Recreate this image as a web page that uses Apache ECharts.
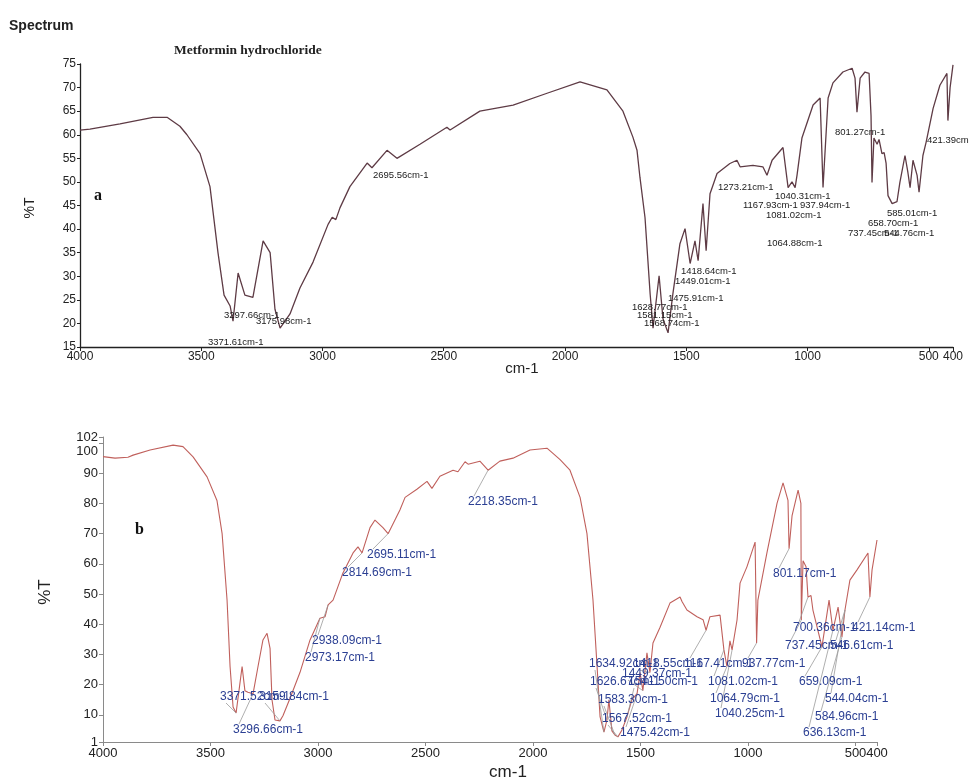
<!DOCTYPE html>
<html>
<head>
<meta charset="utf-8">
<script src="https://cdn.jsdelivr.net/npm/echarts@6/dist/echarts.min.js"></script>
<style>
html,body{margin:0;padding:0;background:#fff;}
#chart{width:969px;height:781px;}
</style>
</head>
<body>
<div id="chart"></div>
<script>
// ---------- DATA ----------
const xTickValues = [4000, 3500, 3000, 2500, 2000, 1500, 1000, 500, 400];
const topYTicks = [15, 20, 25, 30, 35, 40, 45, 50, 55, 60, 65, 70, 75];
const bottomYTicks = [1, 10, 20, 30, 40, 50, 60, 70, 80, 90, 100, 102];
const bottomYCrowdedLabel = 100; // label drawn just below its tick, as in the original

// Spectrum a (Metformin hydrochloride)
const topWavenumber = [4000,3959,3835,3699,3641,3588,3559,3505,3464,3431,3406,3381,3369,3348,3320,3287,3245,3216,3196,3175,3134,3093,3039,2977,2960,2945,2928,2887,2816,2796,2734,2693,2598,2487,2474,2351,2214,2074,1938,1827,1761,1720,1703,1691,1670,1649,1637,1612,1596,1575,1555,1526,1505,1484,1464,1451,1431,1418,1402,1373,1320,1291,1278,1225,1184,1167,1146,1101,1080,1064,1051,1043,1023,977,948,936,915,895,854,816,804,796,783,763,746,738,734,726,713,705,693,684,676,668,651,631,619,598,586,577,565,548,540,524,511,482,454,425,421,412,400];
const topTransmittance = [61,61.2,62.3,63.7,63.7,61.8,60,56,49,35,26,23.7,20.5,30.7,26,25.5,37.5,35,23,19,22,27.5,33,41,42.5,42,44.5,49,54,53,56.7,55,58,61.6,61,65,66.3,68.8,71.2,69.5,65,59.5,56.7,51,42.4,26.3,19,30.1,21,18,26.3,36.9,40.1,32.7,37.5,33.3,45.4,35.4,47.5,51.8,53.9,54.6,53.2,53.5,53.2,51.4,54.6,57.3,48.8,50,48.8,51.5,59.3,66.3,67.8,48.8,67.8,71,73.3,74.1,72,64.8,72,73.3,73,64,49.9,59.3,58,59,56,56.2,54,47.1,45.4,45.8,49.9,55.6,52,48.8,54.6,51.4,47.8,55.6,58.4,65.6,70.5,73,63,70,74.8];

// Spectrum b
const bottomWavenumber = [4000,3944,3884,3860,3781,3674,3628,3581,3516,3470,3446,3423,3409,3395,3381,3363,3353,3340,3326,3302,3279,3256,3237,3223,3214,3200,3177,3163,3130,3084,3037,2991,2967,2953,2930,2884,2837,2814,2795,2758,2735,2698,2674,2619,2595,2540,2493,2470,2433,2372,2349,2316,2302,2247,2209,2154,2093,2014,1935,1874,1828,1781,1749,1721,1702,1688,1670,1656,1647,1633,1619,1605,1586,1563,1540,1516,1502,1489,1470,1456,1442,1409,1363,1316,1307,1284,1237,1209,1195,1177,1130,1112,1098,1084,1074,1051,1037,1005,967,960,954,912,865,837,814,809,795,767,754,752,744,730,721,707,698,656,623,605,581,563,549,526,493,442,433,423,400];
const bottomTransmittance = [95.5,95,95.3,96,97.7,99.3,98.8,95.4,88.8,81,70,48,26,12.6,10.6,20.5,26,18,17.5,17,26,34.8,37,32,15,8.3,8,9.7,15.5,24,34.8,42,42.5,46.4,48,57,63.6,65.6,63.6,72,74.5,72,70,77.8,82,84.7,87.3,85,89,91,90.5,93.8,93,94,91,94,95,97.7,98.3,94.5,91,82,70,48,26,9.3,4.3,8.3,15,4.7,3.3,2.7,5,9.3,15,17,24,18,30.5,24,33.8,39,47,49,47.5,44.7,42.5,41.5,38,42.5,43,31.5,26,34.5,31.5,41.4,53.6,59,67.2,33.8,48,63.6,80,86.8,81,65,76,84.4,80,41.4,61,59,49,49.5,44.7,32.5,48,38,45.7,35.8,44.7,54.6,58,63.6,49,58,67.9];

// Peak annotations
const topPeakLabels = ["3371.61cm-1","3297.66cm-1","3175.98cm-1","2695.56cm-1","1628.77cm-1","1581.15cm-1","1568.74cm-1","1475.91cm-1","1449.01cm-1","1418.64cm-1","1273.21cm-1","1040.31cm-1","1167.93cm-1","937.94cm-1","1081.02cm-1","1064.88cm-1","801.27cm-1","421.39cm-1","585.01cm-1","658.70cm-1","737.45cm-1","544.76cm-1"];

const bottomPeakLabels = ["3371.52cm-1","3159.84cm-1","3296.66cm-1","2938.09cm-1","2973.17cm-1","2695.11cm-1","2814.69cm-1","2218.35cm-1","801.17cm-1","700.36cm-1","421.14cm-1","737.45cm-1","546.61cm-1","659.09cm-1","544.04cm-1","584.96cm-1","636.13cm-1","1081.02cm-1","1064.79cm-1","1040.25cm-1","1634.92cm-1","1418.55cm-1","1167.41cm-1","937.77cm-1","1449.37cm-1","1626.67cm-1","1541.50cm-1","1583.30cm-1","1567.52cm-1","1475.42cm-1"];
const bottomPeakWn = [3381,3177,3302,2953,2991,2674,2795,2209,809,721,433,752,549,656,549,563,605,1112,1098,1074,1670,1456,1195,960,1489,1656,1563,1619,1605,1516];
const bottomPeakT  = [10.6,8,17,46.4,42,70,63.6,91,65,49,49,41.4,44.7,32.5,44.7,35.8,38,31.5,26,31.5,4.3,24,38,33.8,18,8.3,9.3,3.3,2.7,17];

// ---------- LAYOUT (pixel positions of annotation texts) ----------
const topLabelPos = [[208,342],[224,315],[256,321],[373,175],[632,307],[637,315],[644,323],[668,298],[675,281],[681,271],[718,187],[775,196],[743,205],[800,205],[766,215],[767,243],[835,132],[927,140],[887,213],[868,223],[848,233],[884,233]];
const bottomLabelPos = [[220,697],[259,697],[233,730],[312,641],[305,658],[367,555],[342,573],[468,502],[773,574],[793,628],[852,628],[785,646],[830,646],[799,682],[825,699],[815,717],[803,733],[708,682],[710,699],[715,714],[589,664],[633,664],[684,664],[742,664],[622,674],[590,682],[628,682],[598,700],[602,719],[620,733]];

const topSeries = topWavenumber.map((w, i) => [w, topTransmittance[i]]);
const bottomSeries = bottomWavenumber.map((w, i) => [w, bottomTransmittance[i]]);

const chart = echarts.init(document.getElementById('chart'), null, {renderer: 'canvas'});

const topAxisColor = '#222';
const botAxisColor = '#8a8a8a';
const plain = v => String(v);

const option = {
  animation: false,
  backgroundColor: '#fff',
  grid: [
    {left: 80, right: 16, top: 64, height: 283},
    {left: 103, right: 92, top: 437, height: 305}
  ],
  xAxis: [
    {
      gridIndex: 0, type: 'value', inverse: true, min: 400, max: 4000,
      axisLine: {lineStyle: {color: topAxisColor, width: 1.3}},
      axisTick: {show: true, length: 4, customValues: xTickValues, lineStyle: {color: topAxisColor}},
      axisLabel: {customValues: xTickValues, formatter: plain, hideOverlap: false, showMinLabel: true, showMaxLabel: true,
        color: '#222', fontSize: 12, fontFamily: 'Liberation Sans, Arial', margin: 4},
      splitLine: {show: false}
    },
    {
      gridIndex: 1, type: 'value', inverse: true, min: 400, max: 4000,
      axisLine: {lineStyle: {color: botAxisColor, width: 1}},
      axisTick: {show: true, length: 4, customValues: xTickValues, lineStyle: {color: botAxisColor}},
      axisLabel: {customValues: xTickValues, formatter: plain, hideOverlap: false, showMinLabel: true, showMaxLabel: true,
        color: '#222', fontSize: 13, fontFamily: 'Liberation Sans, Arial', margin: 5},
      splitLine: {show: false}
    }
  ],
  yAxis: [
    {
      gridIndex: 0, type: 'value', min: 15, max: 75,
      axisLine: {show: true, lineStyle: {color: topAxisColor, width: 1.3}},
      axisTick: {show: true, length: 3, customValues: topYTicks, lineStyle: {color: topAxisColor}},
      axisLabel: {customValues: topYTicks, formatter: plain, hideOverlap: false, showMinLabel: true, showMaxLabel: true,
        color: '#222', fontSize: 12, fontFamily: 'Liberation Sans, Arial', margin: 4},
      splitLine: {show: false}
    },
    {
      gridIndex: 1, type: 'value', min: 1, max: 102,
      axisLine: {show: true, lineStyle: {color: botAxisColor, width: 1}},
      axisTick: {show: true, length: 4, customValues: bottomYTicks, lineStyle: {color: botAxisColor}},
      axisLabel: {customValues: bottomYTicks.filter(v => v !== bottomYCrowdedLabel), formatter: plain, hideOverlap: false, showMinLabel: true, showMaxLabel: true,
        color: '#222', fontSize: 13, fontFamily: 'Liberation Sans, Arial', margin: 5},
      splitLine: {show: false}
    }
  ],
  series: [
    {
      type: 'line', xAxisIndex: 0, yAxisIndex: 0, data: topSeries,
      showSymbol: false, symbol: 'none',
      lineStyle: {color: '#5e3b45', width: 1.3}
    },
    {
      type: 'line', xAxisIndex: 1, yAxisIndex: 1, data: bottomSeries,
      showSymbol: false, symbol: 'none',
      lineStyle: {color: '#c0605c', width: 1.1}
    }
  ]
};
chart.setOption(option);

// ---------- annotation graphics ----------
const graphics = [
  {type: 'text', left: 9, top: 19, style: {text: 'Spectrum', font: 'bold 14px "Liberation Sans", Arial', fill: '#222'}},
  {type: 'text', left: 174, top: 44, style: {text: 'Metformin hydrochloride', font: 'bold 13.5px "Liberation Serif", "Times New Roman", serif', fill: '#222'}},
  {type: 'text', left: 94, top: 188, style: {text: 'a', font: 'bold 16px "Liberation Serif", serif', fill: '#111'}},
  {type: 'text', left: 135, top: 522, style: {text: 'b', font: 'bold 16px "Liberation Serif", serif', fill: '#111'}},
  {type: 'text', x: 30, y: 208, rotation: Math.PI / 2, style: {text: '%T', font: '14px "Liberation Sans", Arial', fill: '#222', align: 'center', verticalAlign: 'middle'}},
  {type: 'text', x: 45, y: 592, rotation: Math.PI / 2, style: {text: '%T', font: '17px "Liberation Sans", Arial', fill: '#222', align: 'center', verticalAlign: 'middle'}},
  {type: 'text', x: 522, y: 369, style: {text: 'cm-1', font: '15px "Liberation Sans", Arial', fill: '#222', align: 'center', verticalAlign: 'middle'}},
  {type: 'text', x: 508, y: 772, style: {text: 'cm-1', font: '17px "Liberation Sans", Arial', fill: '#222', align: 'center', verticalAlign: 'middle'}}
];

// crowded "100" tick label, placed from the axis scale and nudged below its tick
const p100 = chart.convertToPixel({xAxisIndex: 1, yAxisIndex: 1}, [4000, bottomYCrowdedLabel]);
graphics.push({type: 'text', x: p100[0] - 5, y: p100[1] + 8, style: {text: String(bottomYCrowdedLabel), font: '13px "Liberation Sans", Arial', fill: '#222', align: 'right', verticalAlign: 'middle'}});

topPeakLabels.forEach((t, i) => {
  graphics.push({type: 'text', x: topLabelPos[i][0], y: topLabelPos[i][1], z: 10,
    style: {text: t, font: '9.5px "Liberation Sans", Arial', fill: '#1a1a1a', align: 'left', verticalAlign: 'middle'}});
});

bottomPeakLabels.forEach((t, i) => {
  const p = chart.convertToPixel({xAxisIndex: 1, yAxisIndex: 1}, [bottomPeakWn[i], bottomPeakT[i]]);
  const lx = bottomLabelPos[i][0] + 6, ly = bottomLabelPos[i][1] + (p[1] < bottomLabelPos[i][1] ? -6 : 6);
  graphics.push({type: 'line', z: 5, shape: {x1: p[0], y1: p[1], x2: lx, y2: ly}, style: {stroke: '#9a9a9a', lineWidth: 0.8}});
  graphics.push({type: 'text', x: bottomLabelPos[i][0], y: bottomLabelPos[i][1], z: 10,
    style: {text: t, font: '12px "Liberation Sans", Arial', fill: '#2b3f93', align: 'left', verticalAlign: 'middle'}});
});

chart.setOption({graphic: graphics});
</script>
</body>
</html>
